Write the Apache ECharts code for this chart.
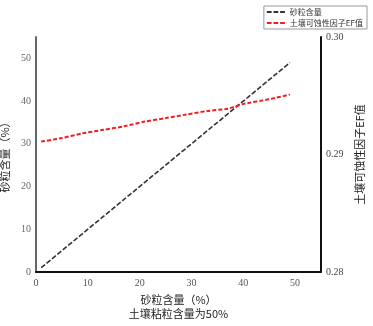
<!DOCTYPE html>
<html>
<head>
<meta charset="utf-8">
<script src="https://cdn.jsdelivr.net/npm/echarts@6/dist/echarts.min.js"></script>
<style>
  html, body { margin: 0; padding: 0; background: #fff; }
  #chart { width: 373px; height: 326px; }
</style>
</head>
<body>
<div id="chart"></div>
<script>
// 砂粒含量 (x) vs 砂粒含量 (left axis) — straight 1:1 line
const sandX = [1, 49];
const sandY = [1, 49];
// 土壤可蚀性因子EF值 (right axis)
const efX = [1, 5, 9, 13, 17, 21, 25, 29, 33, 37, 40, 45, 49];
const efY = [0.2911, 0.2914, 0.2918, 0.2921, 0.2924, 0.2928, 0.2931, 0.2934, 0.2937, 0.2939, 0.2943, 0.2947, 0.2951];
const xTicks = [0, 10, 20, 30, 40, 50];
const leftTicks = [0, 10, 20, 30, 40, 50];
const rightTicks = [0.28, 0.29, 0.3];

const numFont = '"Liberation Serif", "Noto Sans CJK SC", serif';
const cjkFont = '"Noto Sans CJK SC", "Liberation Serif", serif';
const dashIcon = 'path://M0 0h5v2h-5z M7 0h5v2h-5z M14 0h5v2h-5z';

const myChart = echarts.init(document.getElementById('chart'));

const option = {
  animation: false,
  backgroundColor: '#fff',
  grid: { left: 36, right: 52, top: 37, bottom: 54, containLabel: false, outerBoundsMode: 'none' },
  legend: {
    orient: 'vertical',
    right: 6,
    top: 6,
    itemWidth: 18,
    itemHeight: 2,
    itemGap: 3,
    padding: [2, 4, 2, 3],
    borderColor: '#999',
    borderWidth: 1,
    borderRadius: 0,
    textStyle: { fontFamily: cjkFont, fontSize: 8, color: '#333' },
    data: [
      { name: '砂粒含量', icon: dashIcon, itemStyle: { color: '#333' } },
      { name: '土壤可蚀性因子EF值', icon: dashIcon, itemStyle: { color: '#f21f1f' } },
    ],
  },
  xAxis: {
    type: 'value',
    min: 0,
    max: 55,
    interval: 10,
    name: '砂粒含量（%）\n土壤粘粒含量为50%',
    nameLocation: 'middle',
    nameGap: 16,
    nameTextStyle: { fontFamily: cjkFont, fontSize: 11, color: '#222', lineHeight: 14, verticalAlign: 'top' },
    axisLine: { lineStyle: { color: '#111', width: 2 } },
    axisTick: { show: false },
    splitLine: { show: false },
    axisLabel: {
      fontFamily: numFont, fontSize: 10, color: '#555', margin: 6,
      formatter: (v) => (xTicks.includes(v) ? String(v) : ''),
    },
  },
  yAxis: [
    {
      type: 'value',
      min: 0,
      max: 55,
      interval: 10,
      name: '砂粒含量（%）',
      nameLocation: 'middle',
      nameGap: 25,
      nameRotate: 90,
      nameTextStyle: { fontFamily: cjkFont, fontSize: 11, color: '#222' },
      axisLine: { show: true, lineStyle: { color: '#666', width: 2 } },
      axisTick: { show: false },
      splitLine: { show: false },
      axisLabel: {
        fontFamily: numFont, fontSize: 10, color: '#666', margin: 5,
        formatter: (v) => (leftTicks.includes(v) ? String(v) : ''),
      },
    },
    {
      type: 'value',
      min: 0.28,
      max: 0.30,
      interval: 0.01,
      position: 'right',
      name: '土壤可蚀性因子EF值',
      nameLocation: 'middle',
      nameGap: 33,
      nameRotate: 90,
      nameTextStyle: { fontFamily: cjkFont, fontSize: 11, color: '#222' },
      axisLine: { show: true, lineStyle: { color: '#111', width: 2 } },
      axisTick: { show: false },
      splitLine: { show: false },
      axisLabel: {
        fontFamily: numFont, fontSize: 10, color: '#444', margin: 5,
        formatter: (v) => {
          const r = Math.round(v * 100) / 100;
          return rightTicks.some((t) => Math.abs(t - r) < 1e-9) ? r.toFixed(2) : '';
        },
      },
    },
  ],
  series: [
    {
      name: '砂粒含量',
      type: 'line',
      yAxisIndex: 0,
      symbol: 'none',
      data: sandX.map((x, i) => [x, sandY[i]]),
      lineStyle: { color: '#333', width: 1.6, type: [5, 2] },
      itemStyle: { color: '#333' },
    },
    {
      name: '土壤可蚀性因子EF值',
      type: 'line',
      yAxisIndex: 1,
      symbol: 'none',
      smooth: 0.2,
      data: efX.map((x, i) => [x, efY[i]]),
      lineStyle: { color: '#f21f1f', width: 2, type: [4, 2] },
      itemStyle: { color: '#f21f1f' },
    },
  ],
};

myChart.setOption(option);
</script>
</body>
</html>
